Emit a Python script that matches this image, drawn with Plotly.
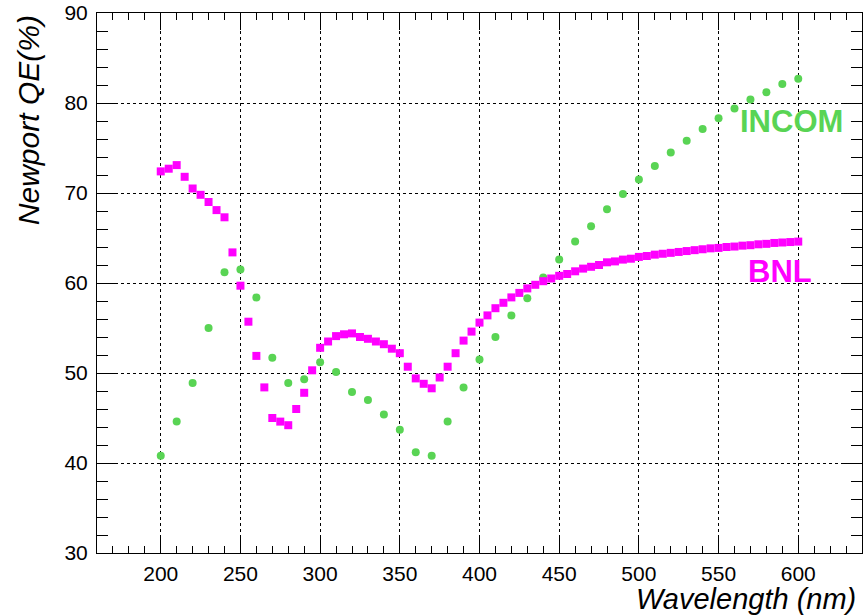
import plotly.graph_objects as go

# ---- data ----
bnl_wavelength = [200, 205, 210, 215, 220, 225, 230, 235, 240, 245, 250, 255, 260, 265, 270, 275,
                  280, 285, 290, 295, 300, 305, 310, 315, 320, 325, 330, 335, 340, 345, 350, 355,
                  360, 365, 370, 375, 380, 385, 390, 395, 400, 405, 410, 415, 420, 425, 430, 435,
                  440, 445, 450, 455, 460, 465, 470, 475, 480, 485, 490, 495, 500, 505, 510, 515,
                  520, 525, 530, 535, 540, 545, 550, 555, 560, 565, 570, 575, 580, 585, 590, 595, 600]
bnl_qe = [72.4, 72.7, 73.1, 71.8, 70.5, 69.8, 69.0, 68.1, 67.3, 63.4, 59.7, 55.7, 51.9, 48.4, 45.0, 44.6,
          44.2, 46.0, 47.8, 50.3, 52.8, 53.5, 54.1, 54.3, 54.4, 54.0, 53.8, 53.5, 53.2, 52.7, 52.2, 50.7,
          49.4, 48.8, 48.3, 49.5, 50.7, 52.2, 53.6, 54.6, 55.6, 56.4, 57.2, 57.8, 58.4, 58.9, 59.4, 59.8,
          60.2, 60.5, 60.8, 61.0, 61.3, 61.6, 61.8, 62.0, 62.3, 62.4, 62.6, 62.7, 62.9, 63.0, 63.15, 63.25,
          63.35, 63.45, 63.55, 63.65, 63.75, 63.85, 63.9, 64.0, 64.05, 64.15, 64.2, 64.3, 64.35, 64.45,
          64.5, 64.55, 64.6]

incom_wavelength = [200, 210, 220, 230, 240, 250, 260, 270, 280, 290, 300, 310, 320, 330, 340, 350,
                    360, 370, 380, 390, 400, 410, 420, 430, 440, 450, 460, 470, 480, 490, 500, 510,
                    520, 530, 540, 550, 560, 570, 580, 590, 600]
incom_qe = [40.8, 44.6, 48.9, 55.0, 61.2, 61.5, 58.4, 51.7, 48.9, 49.3, 51.2, 50.1, 47.9, 47.0, 45.4, 43.7,
            41.2, 40.8, 44.6, 48.4, 51.5, 54.0, 56.4, 58.3, 60.6, 62.6, 64.6, 66.3, 68.2, 69.9, 71.5, 73.0,
            74.5, 75.8, 77.1, 78.3, 79.4, 80.4, 81.2, 82.1, 82.7]

x_tick_vals = [200, 250, 300, 350, 400, 450, 500, 550, 600]
y_tick_vals = [30, 40, 50, 60, 70, 80, 90]

MAGENTA = "#FF00FF"
GREEN = "#59D454"
FONT = "Liberation Sans, Arial, Helvetica, sans-serif"

fig = go.Figure()
fig.add_trace(go.Scatter(x=incom_wavelength, y=incom_qe, mode="markers", name="INCOM",
                         marker=dict(symbol="circle", size=8, color=GREEN, line=dict(width=0))))
fig.add_trace(go.Scatter(x=bnl_wavelength, y=bnl_qe, mode="markers", name="BNL",
                         marker=dict(symbol="square", size=8, color=MAGENTA, line=dict(width=0))))

axis_common = dict(
    showline=True, linecolor="black", linewidth=1, mirror="ticks",
    ticks="inside", tickcolor="black", tickwidth=1,
    showgrid=True, gridcolor="black", gridwidth=1, griddash="dot",
    zeroline=False, automargin=False,
    tickfont=dict(family=FONT, size=21, color="black"),
)

fig.update_xaxes(range=[160, 640], tickvals=x_tick_vals, ticklen=17, ticklabelstandoff=2,
                 minor=dict(dtick=10, tick0=200, ticklen=7, ticks="inside", tickcolor="black", showgrid=False),
                 **axis_common)
fig.update_yaxes(range=[30, 90], tickvals=y_tick_vals, ticklen=21, ticklabelstandoff=4,
                 minor=dict(dtick=2, tick0=30, ticklen=11, ticks="inside", tickcolor="black", showgrid=False),
                 **axis_common)

fig.add_annotation(text="INCOM", x=562.5, y=77.9, xref="x", yref="y", xanchor="left", yanchor="middle",
                   showarrow=False, font=dict(family=FONT, size=31, color=GREEN, weight="bold"))
fig.add_annotation(text="BNL", x=567.5, y=61.25, xref="x", yref="y", xanchor="left", yanchor="middle",
                   showarrow=False, font=dict(family=FONT, size=31, color=MAGENTA, weight="bold"))

fig.add_annotation(text="<i>Wavelength (nm)</i>", x=0.995, y=-0.085, xref="paper", yref="paper",
                   xanchor="right", yanchor="middle", showarrow=False,
                   font=dict(family=FONT, size=29, color="black"))
fig.add_annotation(text="<i>Newport QE(%)</i>", x=-0.090, y=1.0, xref="paper", yref="paper",
                   xanchor="center", yanchor="top", textangle=-90, showarrow=False,
                   font=dict(family=FONT, size=30, color="black"))

fig.update_layout(
    width=866, height=616,
    margin=dict(l=97, r=4, t=13, b=63),
    paper_bgcolor="white", plot_bgcolor="white",
    showlegend=False,
)

fig.write_html("out.html")
